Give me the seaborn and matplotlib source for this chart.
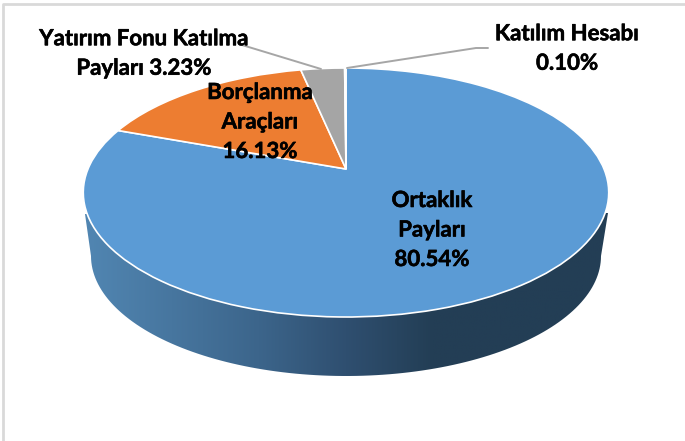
import numpy as np
import matplotlib
matplotlib.use("Agg")
import matplotlib.pyplot as plt
import matplotlib.patheffects as pe
from matplotlib.patches import PathPatch
from matplotlib.path import Path
from matplotlib.transforms import Transform
from matplotlib.colors import LinearSegmentedColormap
import seaborn as sns

categories = ["Ortaklık\nPayları", "Borçlanma\nAraçları", "Yatırım Fonu Katılma\nPayları", "Katılım Hesabı\n"]
values = [80.54, 16.13, 3.23, 0.10]
colors = ["#5B9BD5", "#ED7D31", "#A5A5A5", "#FFC000"]
side_stops = ["#5186B2", "#47769F", "#3C658B", "#2F4F70", "#233E55", "#233E55", "#233E55"]

sns.set_theme(style="white")
plt.rcParams["font.family"] = ["Lato", "DejaVu Sans"]


class Perspective(Transform):
    """Tilted-disc projection of the unit pie onto pixel coordinates."""
    input_dims = output_dims = 2
    has_inverse = False

    def __init__(self, cx, cy, a, p, q, k):
        super().__init__()
        self.cx, self.cy, self.a, self.p, self.q, self.k = cx, cy, a, p, q, k

    def transform_non_affine(self, xy):
        xy = np.asarray(xy, float)
        u, v = xy[:, 0], xy[:, 1]
        w = 1 + self.k * v
        return np.column_stack([self.cx + self.a * u / w,
                                self.cy - (self.p + self.q * v) / w])


fig = plt.figure(figsize=(6.85, 4.41), dpi=100, facecolor="white")
ax = fig.add_axes([0, 0, 1, 1])

wedges, _ = ax.pie(values, colors=colors, startangle=90, counterclock=False,
                   wedgeprops=dict(edgecolor="white", linewidth=1.2))
ax.set_aspect("auto")
ax.set_xlim(0, 685)
ax.set_ylim(441, 0)
ax.axis("off")

proj = Perspective(346, 192, 258, 23, 124.4, 0.1888)
for w in wedges:
    w.set_transform(proj + ax.transData)
    w.set_zorder(3)
    w.set_clip_on(False)

# Extruded side with horizontal shading
t = np.linspace(np.pi, 2 * np.pi, 120)
xs = 346 + 255 * np.cos(t)
ys = 256 - 120 * np.sin(t)
verts = np.vstack([[[85, 214]], np.column_stack([xs, ys]), [[608, 213]], [[85, 214]]])
side_path = Path(verts, closed=True)
cmap = LinearSegmentedColormap.from_list("side", side_stops)
im = ax.imshow(np.linspace(0, 1, 256)[None, :], cmap=cmap, aspect="auto",
               extent=(84, 608, 380, 200), zorder=1)
clip = PathPatch(side_path, transform=ax.transData, facecolor="none", edgecolor="none")
ax.add_patch(clip)
im.set_clip_path(clip)
ax.set_xlim(0, 685)
ax.set_ylim(441, 0)

# Frame
ax.plot([3.5, 3.5, 685], [441, 3.5, 3.5], color="#D9D9D9", lw=2, zorder=0, solid_capstyle="butt")

# Leader lines
ax.plot([242, 321], [45, 69], color="#A6A6A6", lw=1.4, zorder=4)
ax.plot([347, 476, 488], [68, 48, 48], color="#A6A6A6", lw=1.4, zorder=4)

fs = 16
labels = [
    (432, 230, f"{categories[0]}\n{values[0]:.2f}%"),
    (260, 122, f"{categories[1]}\n{values[1]:.2f}%"),
    (144, 53.5, f"{categories[2]} {values[2]:.2f}%"),
    (567, 48.5, f"{categories[3].strip()}\n{values[3]:.2f}%"),
]
for x, y, s in labels:
    ax.text(x, y, s, ha="center", va="center", fontsize=fs, fontweight="bold",
            color="black", linespacing=1.5, zorder=5,
            path_effects=[pe.withStroke(linewidth=0.4, foreground="black")])

fig.savefig("out.png", dpi=100, facecolor="white")
